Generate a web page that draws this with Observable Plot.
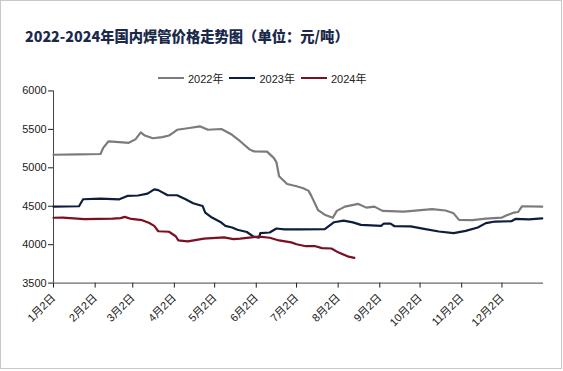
<!DOCTYPE html>
<html>
<head>
<meta charset="utf-8">
<script src="https://cdn.jsdelivr.net/npm/d3@7"></script>
<script src="https://cdn.jsdelivr.net/npm/@observablehq/plot@0.6"></script>
<style>
  html, body { margin: 0; padding: 0; background: #fff; }
  #frame { position: absolute; left: 0; top: 0; width: 562px; height: 369px; box-sizing: border-box; border: 1px solid #c8c8c8; background: #fff; overflow: hidden; }
  #title { position: absolute; left: 24px; top: 27px; font-family: "Noto Sans CJK SC", sans-serif; font-weight: 900; font-size: 14.3px; line-height: 16px; color: #1b2a4a; white-space: nowrap; }
  #legend { position: absolute; left: 157px; top: 70px; height: 14px; display: flex; align-items: center; font-family: "Liberation Sans", "Noto Sans CJK SC", sans-serif; font-size: 11px; color: #222; white-space: nowrap; }
  #legend .item { display: flex; align-items: center; margin-right: 6px; }
  #legend svg { margin-right: 4px; }
  #chart { position: absolute; left: 0; top: 80px; }
</style>
</head>
<body>
<div id="frame">
  <div id="title"></div>
  <div id="legend"></div>
  <div id="chart"></div>
</div>
<script>
// ---- data (x = days since Jan 2, y = price in 元/吨) ----
const seriesNames = ["2022年", "2023年", "2024年"];
const seriesColors = ["#7b7b7b", "#0c1d3d", "#7a1020"];

const days2022 = [0, 19, 35, 37, 41, 49, 56, 61, 65, 68, 74, 81, 86, 89, 92, 100, 109, 115, 125, 132, 139, 146, 149, 159, 164, 166, 168, 174, 181, 186, 190, 192, 197, 202, 208, 211, 217, 227, 233, 239, 245, 261, 282, 292, 298, 302, 312, 322, 334, 338, 343, 346, 349, 364];
const price2022 = [5170, 5175, 5180, 5260, 5345, 5335, 5325, 5370, 5460, 5420, 5385, 5400, 5420, 5455, 5495, 5515, 5540, 5495, 5505, 5440, 5346, 5240, 5215, 5210, 5130, 5075, 4890, 4790, 4760, 4735, 4700, 4635, 4450, 4390, 4350, 4440, 4495, 4530, 4482, 4495, 4440, 4430, 4462, 4445, 4408, 4322, 4320, 4340, 4353, 4385, 4418, 4425, 4500, 4495];

const days2023 = [0, 19, 22, 35, 49, 55, 63, 70, 75, 78, 85, 92, 98, 104, 111, 113, 118, 125, 128, 133, 137, 144, 149, 153, 154, 161, 166, 172, 183, 202, 209, 216, 223, 229, 244, 246, 251, 254, 266, 276, 287, 298, 307, 316, 322, 329, 341, 344, 354, 364];
const price2023 = [4495, 4500, 4591, 4600, 4590, 4634, 4640, 4664, 4720, 4710, 4643, 4643, 4595, 4539, 4504, 4418, 4353, 4288, 4245, 4223, 4194, 4165, 4105, 4090, 4150, 4158, 4210, 4200, 4200, 4202, 4292, 4312, 4290, 4258, 4245, 4275, 4275, 4240, 4238, 4205, 4171, 4150, 4180, 4223, 4280, 4301, 4305, 4335, 4330, 4342];

const days2024 = [0, 7, 23, 44, 50, 53, 58, 66, 71, 75, 78, 86, 91, 93, 100, 112, 127, 134, 139, 153, 161, 168, 177, 181, 188, 195, 200, 207, 212, 219, 224];
const price2024 = [4350, 4353, 4332, 4338, 4345, 4362, 4335, 4319, 4285, 4245, 4175, 4168, 4110, 4055, 4042, 4078, 4094, 4073, 4078, 4105, 4090, 4055, 4030, 4005, 3980, 3980, 3955, 3950, 3900, 3848, 3828];

const tickDays = [0, 31, 59, 90, 120, 151, 181, 212, 243, 273, 304, 334];
const tickLabels = ["1月2日", "2月2日", "3月2日", "4月2日", "5月2日", "6月2日", "7月2日", "8月2日", "9月2日", "10月2日", "11月2日", "12月2日"];
const yTicks = [3500, 4000, 4500, 5000, 5500, 6000];

const titleText = "2022-2024年国内焊管价格走势图（单位：元/吨）";

// ---- build table ----
const allDays = [days2022, days2023, days2024];
const allPrices = [price2022, price2023, price2024];
const rows = [];
seriesNames.forEach((name, i) => {
  allDays[i].forEach((d, j) => rows.push({series: name, day: d, price: allPrices[i][j]}));
});

document.getElementById("title").textContent = titleText;

// legend
const legend = document.getElementById("legend");
seriesNames.forEach((name, i) => {
  const item = document.createElement("div");
  item.className = "item";
  item.innerHTML = `<svg width="26" height="4"><line x1="0" y1="2" x2="26" y2="2" stroke="${seriesColors[i]}" stroke-width="2"/></svg><span>${name}</span>`;
  legend.appendChild(item);
});

const chart = Plot.plot({
  width: 563,
  height: 291,
  marginLeft: 52.3,
  marginRight: 18,
  marginTop: 9.5,
  marginBottom: 88.3,
  style: {fontFamily: "'Liberation Sans', 'Noto Sans CJK SC', sans-serif", fontSize: "11px", color: "#1a1a1a", background: "transparent"},
  x: {domain: [0, 365], axis: null},
  y: {domain: [3500, 6000], axis: null},
  color: {domain: seriesNames, range: seriesColors},
  marks: [
    Plot.axisY({ticks: yTicks, tickSize: 5, tickPadding: 2, tickFormat: d => String(d), label: null, fontSize: 11, color: "#1a1a1a"}),
    Plot.axisX({ticks: tickDays, tickSize: 5, tickPadding: 8, tickRotate: -45, tickFormat: d => tickLabels[tickDays.indexOf(d)], label: null, fontSize: 11, color: "#1a1a1a"}),
    Plot.ruleX([0], {stroke: "#444", strokeWidth: 1}),
    Plot.ruleY([3500], {stroke: "#444", strokeWidth: 1}),
    Plot.line(rows, {x: "day", y: "price", z: "series", stroke: "series", strokeWidth: 2.2, strokeLinejoin: "round"})
  ]
});
document.getElementById("chart").appendChild(chart);
</script>
</body>
</html>
